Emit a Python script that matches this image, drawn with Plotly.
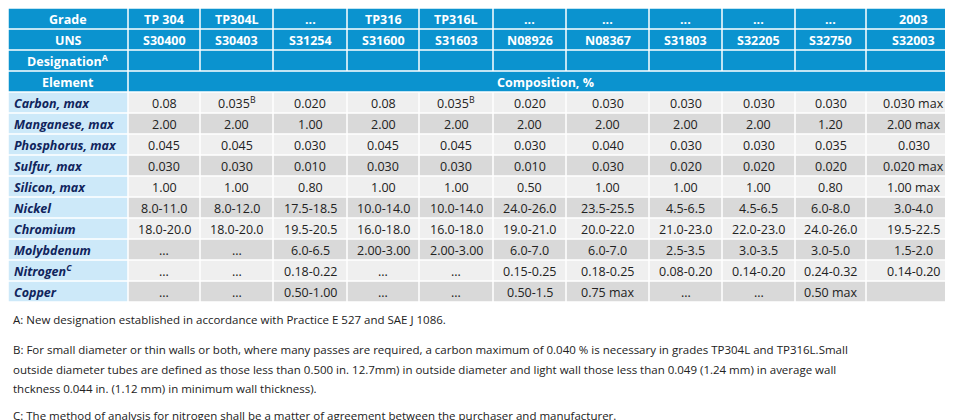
import plotly.graph_objects as go

grades = ["TP 304", "TP304L", "...", "TP316", "TP316L", "...", "...", "...", "...", "...", "2003"]
uns = ["S30400", "S30403", "S31254", "S31600", "S31603", "N08926", "N08367", "S31803", "S32205", "S32750", "S32003"]
elements = ["Carbon, max", "Manganese, max", "Phosphorus, max", "Sulfur, max", "Silicon, max",
            "Nickel", "Chromium", "Molybdenum", "Nitrogen<sup>C</sup>", "Copper"]
carbon = ["0.08", "0.035<sup>B</sup>", "0.020", "0.08", "0.035<sup>B</sup>", "0.020", "0.030", "0.030", "0.030", "0.030", "0.030 max"]
manganese = ["2.00", "2.00", "1.00", "2.00", "2.00", "2.00", "2.00", "2.00", "2.00", "1.20", "2.00 max"]
phosphorus = ["0.045", "0.045", "0.030", "0.045", "0.045", "0.030", "0.040", "0.030", "0.030", "0.035", "0.030"]
sulfur = ["0.030", "0.030", "0.010", "0.030", "0.030", "0.010", "0.030", "0.020", "0.020", "0.020", "0.020 max"]
silicon = ["1.00", "1.00", "0.80", "1.00", "1.00", "0.50", "1.00", "1.00", "1.00", "0.80", "1.00 max"]
nickel = ["8.0-11.0", "8.0-12.0", "17.5-18.5", "10.0-14.0", "10.0-14.0", "24.0-26.0", "23.5-25.5", "4.5-6.5", "4.5-6.5", "6.0-8.0", "3.0-4.0"]
chromium = ["18.0-20.0", "18.0-20.0", "19.5-20.5", "16.0-18.0", "16.0-18.0", "19.0-21.0", "20.0-22.0", "21.0-23.0", "22.0-23.0", "24.0-26.0", "19.5-22.5"]
molybdenum = ["...", "...", "6.0-6.5", "2.00-3.00", "2.00-3.00", "6.0-7.0", "6.0-7.0", "2.5-3.5", "3.0-3.5", "3.0-5.0", "1.5-2.0"]
nitrogen = ["...", "...", "0.18-0.22", "...", "...", "0.15-0.25", "0.18-0.25", "0.08-0.20", "0.14-0.20", "0.24-0.32", "0.14-0.20"]
copper = ["...", "...", "0.50-1.00", "...", "...", "0.50-1.5", "0.75 max", "...", "...", "0.50 max", ""]
rows = [carbon, manganese, phosphorus, sulfur, silicon, nickel, chromium, molybdenum, nitrogen, copper]

notes = [
    "A: New designation established in accordance with Practice E 527 and SAE J 1086.",
    "B: For small diameter or thin walls or both, where many passes are required, a carbon maximum of 0.040 % is necessary in grades TP304L and TP316L.Small",
    "outside diameter tubes are defined as those less than 0.500 in. 12.7mm) in outside diameter and light wall those less than 0.049 (1.24 mm) in average wall",
    "thckness 0.044 in. (1.12 mm) in minimum wall thickness).",
    "C: The method of analysis for nitrogen shall be a matter of agreement between the purchaser and manufacturer.",
]
note_y = [311, 341, 361, 380, 407]

# layout (pixel coordinates)
col_edges = [0, 120, 192, 265, 339, 411, 485, 558, 641, 714, 787, 858, 953]
row_h = 21
GAP = 1.5
BLUE = "#0b93cf"
LIGHTBLUE = "#cde9f9"
GRAY1 = "#efefef"
GRAY2 = "#d9d9d9"
NAVY = "#10245c"
FONT = "Open Sans"

shapes, ann = [], []


def cell(x0, x1, r, color, text, fcolor, bold=False, italic=False, align="center"):
    y0 = r * row_h
    shapes.append(dict(type="rect", xref="x", yref="y", x0=x0 + GAP / 2, x1=x1 - GAP / 2,
                       y0=y0 + GAP / 2, y1=y0 + row_h - GAP / 2, fillcolor=color, line_width=0, layer="below"))
    if text:
        t = text
        if bold:
            t = "<b>" + t + "</b>"
        if italic:
            t = "<i>" + t + "</i>"
        xa = (x0 + x1) / 2 if align == "center" else x0 + 4
        ann.append(dict(x=xa, y=y0 + row_h / 2 + 0.5, text=t, showarrow=False,
                        xanchor="center" if align == "center" else "left",
                        font=dict(family=FONT, size=12.5, color=fcolor)))


cell(col_edges[0], col_edges[1], 0, BLUE, "Grade", "white", bold=True)
cell(col_edges[0], col_edges[1], 1, BLUE, "UNS", "white", bold=True)
cell(col_edges[0], col_edges[1], 2, BLUE, "Designation<sup>A</sup>", "white", bold=True)
cell(col_edges[0], col_edges[1], 3, BLUE, "Element", "white", bold=True)
for i in range(len(grades)):
    x0, x1 = col_edges[i + 1], col_edges[i + 2]
    cell(x0, x1, 0, BLUE, grades[i], "white", bold=True)
    cell(x0, x1, 1, BLUE, uns[i], "white", bold=True)
    cell(x0, x1, 2, BLUE, "", "white")
cell(col_edges[1], col_edges[-1], 3, BLUE, "", "white")
ann.append(dict(x=col_edges[6] + 2, y=3.5 * row_h + 0.5, text="<b>Composition, %</b>", showarrow=False,
                xanchor="left", font=dict(family=FONT, size=12.5, color="white")))

for r, (name, vals) in enumerate(zip(elements, rows)):
    rr = r + 4
    bg = GRAY1 if r % 2 == 0 else GRAY2
    cell(col_edges[0], col_edges[1], rr, LIGHTBLUE, name, NAVY, bold=True, italic=True, align="left")
    for i, v in enumerate(vals):
        cell(col_edges[i + 1], col_edges[i + 2], rr, bg, v, "#222222")

for t, y in zip(notes, note_y):
    ann.append(dict(x=3, y=y, text=t, showarrow=False, xanchor="left",
                    font=dict(family=FONT, size=11.5, color="#222222")))

fig = go.Figure()
fig.update_layout(
    width=953, height=420, margin=dict(l=0, r=0, t=0, b=0),
    paper_bgcolor="white", plot_bgcolor="white",
    xaxis=dict(range=[0, 953], visible=False, fixedrange=True),
    yaxis=dict(range=[420, 0], visible=False, fixedrange=True),
    shapes=shapes, annotations=ann, showlegend=False,
)
fig.write_html("out.html")
